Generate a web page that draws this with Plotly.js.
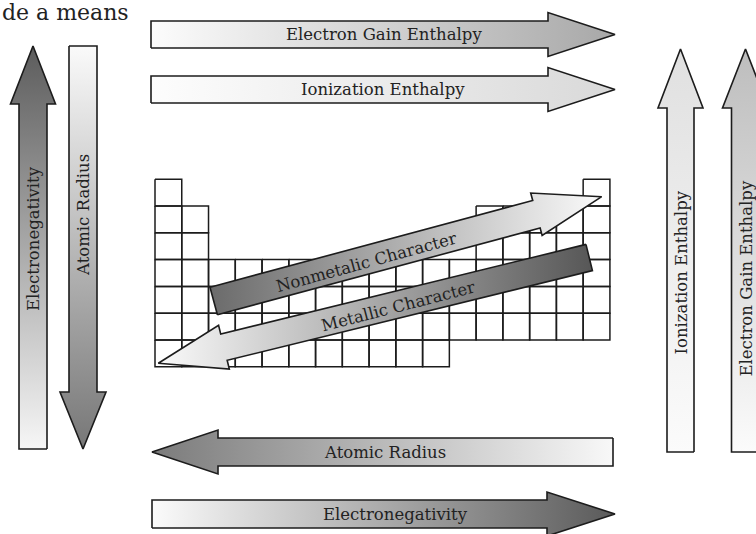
<!DOCTYPE html>
<html><head><meta charset="utf-8">
<script src="https://cdn.plot.ly/plotly-3.0.1.min.js"></script>
<style>html,body{margin:0;padding:0;background:#fff}</style>
</head><body><div id="chart" style="width:756px;height:534px"></div>
<script>
// ---------------- data ----------------
const periods = [1, 2, 3, 4, 5, 6, 7];
const groupsInPeriod = [
  [1, 17],
  [1, 2, 13, 14, 15, 16, 17],
  [1, 2, 13, 14, 15, 16, 17],
  [1, 2, 3, 4, 5, 6, 7, 8, 9, 10, 11, 12, 13, 14, 15, 16, 17],
  [1, 2, 3, 4, 5, 6, 7, 8, 9, 10, 11, 12, 13, 14, 15, 16, 17],
  [1, 2, 3, 4, 5, 6, 7, 8, 9, 10, 11, 12, 13, 14, 15, 16, 17],
  [1, 2, 3, 4, 5, 6, 7, 8, 9, 10, 11]
];
const trendLabels = [
  'Electron Gain Enthalpy', 'Ionization Enthalpy',
  'Electronegativity', 'Atomic Radius',
  'Ionization Enthalpy', 'Electron Gain Enthalpy',
  'Atomic Radius', 'Electronegativity',
  'Nonmetalic Character', 'Metallic Character'
];
const headerText = 'de a means';

// ---------------- geometry & style (positions in page pixels) ----------------
const CELL = {x0: 155, y0: 179.3, w: 26.76, h: 26.77};
const ARROWS = [
  {tail: [151, 34.5], tip: [615, 34.5], shaft: 27, head: 44, headLen: 67, c: ['#fcfcfc', '#a8a8a8'], t: [384, 34.5], a: 0},
  {tail: [151, 89.5], tip: [615, 89.5], shaft: 27, head: 44, headLen: 67, c: ['#fdfdfd', '#d9d9d9'], t: [383, 89.5], a: 0},
  {tail: [33, 449], tip: [33, 46], shaft: 28, head: 45, headLen: 58, c: ['#f6f6f6', '#5c5c5c'], t: [33, 239], a: -90},
  {tail: [83, 46], tip: [83, 449], shaft: 28, head: 46, headLen: 57, c: ['#fafafa', '#777777'], t: [83, 215], a: -90},
  {tail: [680.5, 452], tip: [680.5, 49], shaft: 27, head: 45, headLen: 59, c: ['#fbfbfb', '#e0e0e0'], t: [680.5, 273], a: -90},
  {tail: [745.5, 452], tip: [745.5, 49], shaft: 28, head: 46, headLen: 59, c: ['#fbfbfb', '#bdbdbd'], t: [745.5, 279], a: -90},
  {tail: [613, 452], tip: [152, 452], shaft: 28, head: 44, headLen: 66, c: ['#f8f8f8', '#7b7b7b'], t: [385, 452], a: 0},
  {tail: [152, 514], tip: [615, 514], shaft: 28, head: 44, headLen: 68, c: ['#fbfbfb', '#5a5a5a'], t: [395, 514], a: 0},
  {tail: [213.7, 301], tip: [601.7, 196.7], shaft: 28.5, head: 44, headLen: 67.6, c: ['#6c6c6c', '#fafafa'], t: [366, 262], a: -15.3},
  {tail: [589.2, 257.5], tip: [158.3, 363.3], shaft: 27, head: 45, headLen: 67.6, c: ['#585858', '#fafafa'], t: [398, 306], a: -14.5}
];
const INK = '#1c1c1c';
const FONT = 'DejaVu Serif, Liberation Serif, serif';
const LABEL_SIZE = 16.5;

// ---------------- build ----------------
const traces = [];

// periodic table grid (one trace, cells separated by nulls)
const gx = [], gy = [];
periods.forEach((p, i) => {
  groupsInPeriod[i].forEach(g => {
    const x1 = CELL.x0 + (g - 1) * CELL.w, x2 = x1 + CELL.w;
    const y1 = CELL.y0 + (p - 1) * CELL.h, y2 = y1 + CELL.h;
    gx.push(x1, x2, x2, x1, x1, null);
    gy.push(y1, y1, y2, y2, y1, null);
  });
});
traces.push({type: 'scatter', mode: 'lines', x: gx, y: gy, line: {color: INK, width: 1.5}, hoverinfo: 'skip'});

function arrowPoly(A) {
  const dx = A.tip[0] - A.tail[0], dy = A.tip[1] - A.tail[1];
  const L = Math.hypot(dx, dy), ux = dx / L, uy = dy / L;
  const nx = -uy, ny = ux;
  const bx = A.tip[0] - ux * A.headLen, by = A.tip[1] - uy * A.headLen;
  const s = A.shaft / 2, h = A.head / 2;
  const pts = [
    [A.tail[0] + nx * s, A.tail[1] + ny * s],
    [bx + nx * s, by + ny * s],
    [bx + nx * h, by + ny * h],
    [A.tip[0], A.tip[1]],
    [bx - nx * h, by - ny * h],
    [bx - nx * s, by - ny * s],
    [A.tail[0] - nx * s, A.tail[1] - ny * s]
  ];
  pts.push(pts[0]);
  return {x: pts.map(p => p[0]), y: pts.map(p => p[1]), horiz: Math.abs(dx) >= Math.abs(dy)};
}

const annotations = [];
ARROWS.forEach((A, i) => {
  const P = arrowPoly(A);
  const k = P.horiz ? 0 : 1;
  traces.push({
    type: 'scatter', mode: 'lines', x: P.x, y: P.y, fill: 'toself',
    fillgradient: {
      type: P.horiz ? 'horizontal' : 'vertical',
      colorscale: [[0, A.c[0]], [1, A.c[1]]],
      start: A.tail[k], stop: A.tip[k]
    },
    line: {color: INK, width: 1.6}, hoverinfo: 'skip'
  });
  annotations.push({
    x: A.t[0], y: A.t[1], xref: 'x', yref: 'y', text: trendLabels[i], showarrow: false,
    textangle: A.a, xanchor: 'center', yanchor: 'middle',
    font: {family: FONT, size: LABEL_SIZE, color: '#222'}
  });
});

annotations.push({
  x: 0, y: 1 - 12 / 534, xref: 'paper', yref: 'paper', text: headerText, showarrow: false,
  xanchor: 'left', yanchor: 'middle', font: {family: FONT, size: 22, color: '#222'}
});

const layout = {
  width: 756, height: 534,
  margin: {l: 0, r: 0, t: 0, b: 0},
  paper_bgcolor: '#ffffff', plot_bgcolor: '#ffffff',
  showlegend: false,
  xaxis: {range: [0, 756], visible: false, fixedrange: true},
  yaxis: {range: [534, 0], visible: false, fixedrange: true},
  annotations: annotations
};
Plotly.newPlot('chart', traces, layout, {staticPlot: true, displayModeBar: false});
</script>
</body></html>
